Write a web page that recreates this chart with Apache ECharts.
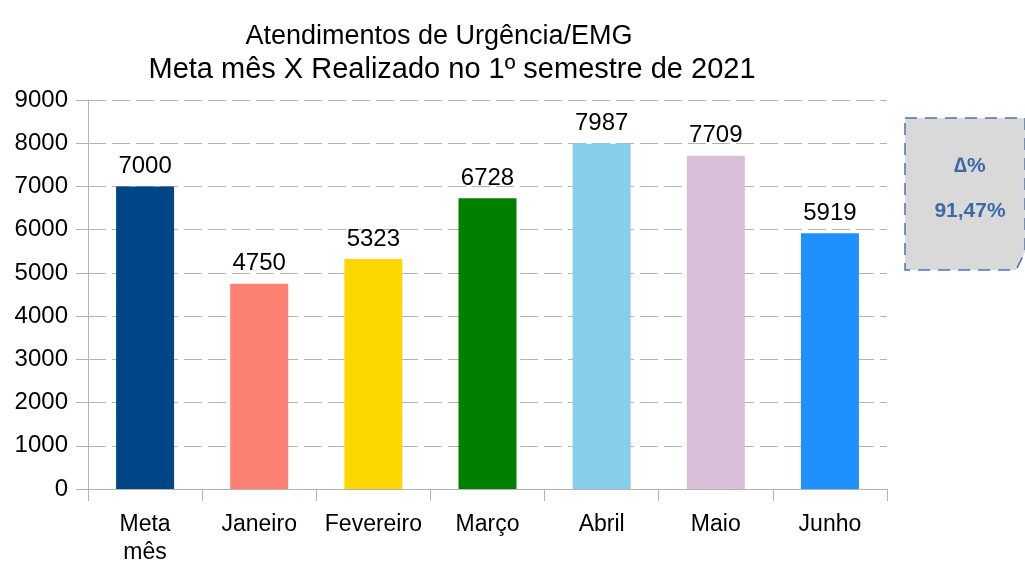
<!DOCTYPE html>
<html>
<head>
<meta charset="utf-8">
<title>Atendimentos de Urgência/EMG</title>
<script src="https://cdn.jsdelivr.net/npm/echarts@6/dist/echarts.min.js"></script>
<style>
  html, body { margin: 0; padding: 0; background: #fff; }
  #main { width: 1025px; height: 563px; }
</style>
</head>
<body>
<div id="main"></div>
<script>
var categories = ['Meta\nmês', 'Janeiro', 'Fevereiro', 'Março', 'Abril', 'Maio', 'Junho'];
var values = [7000, 4750, 5323, 6728, 7987, 7709, 5919];
var barColors = ['#004586', '#fa8072', '#ffd700', '#008000', '#87ceeb', '#d8bfd8', '#1e90ff'];
var yTicks = { min: 0, max: 9000, interval: 1000 };
var titleLines = ['Atendimentos de Urgência/EMG', 'Meta mês X Realizado no 1º semestre de 2021'];
var deltaLabel = '∆%';
var deltaValue = '91,47%';

var font = '"Liberation Sans", Arial, sans-serif';
var chart = echarts.init(document.getElementById('main'));

chart.setOption({
  backgroundColor: '#ffffff',
  animation: false,
  title: [{
    text: titleLines[0],
    left: 434,
    textAlign: 'center',
    top: 15,
    textStyle: { fontFamily: font, fontSize: 27, fontWeight: 'normal', color: '#000', lineHeight: 33 }
  }, {
    text: titleLines[1],
    left: 447,
    textAlign: 'center',
    top: 48,
    textStyle: { fontFamily: font, fontSize: 29, fontWeight: 'normal', color: '#000', lineHeight: 33 }
  }],
  grid: { left: 88, right: 138, top: 100, bottom: 74, outerBoundsMode: 'none' },
  xAxis: {
    type: 'category',
    data: categories,
    axisLine: { lineStyle: { color: '#b3b3b3' } },
    axisTick: { show: true, length: 12, lineStyle: { color: '#b3b3b3' } },
    axisLabel: { interval: 0, fontFamily: font, fontSize: 23, color: '#000', margin: 22, lineHeight: 28 }
  },
  yAxis: {
    type: 'value',
    min: yTicks.min,
    max: yTicks.max,
    interval: yTicks.interval,
    axisLine: { show: true, lineStyle: { color: '#b3b3b3' } },
    axisTick: { show: true, length: 12, lineStyle: { color: '#b3b3b3' } },
    axisLabel: { fontFamily: font, fontSize: 24, color: '#000', margin: 20, formatter: function (v) { return String(v); } },
    splitLine: { lineStyle: { color: '#b3b3b3', type: [18, 6] } }
  },
  series: [{
    type: 'bar',
    barWidth: 58,
    data: values.map(function (v, i) {
      return { value: v, itemStyle: { color: barColors[i] } };
    }),
    label: {
      show: true,
      position: 'top',
      distance: 8,
      fontFamily: font,
      fontSize: 24,
      color: '#000'
    }
  }],
  graphic: [
    {
      type: 'polygon',
      shape: { points: [[905, 118], [1025, 118], [1025, 252], [1016, 270], [905, 270]] },
      style: { fill: '#d9d9d9', stroke: '#4a74b0', lineWidth: 1.5, lineDash: [12, 8] }
    },
    {
      type: 'text',
      x: 970, y: 166,
      style: { text: deltaLabel, fontFamily: font, fontSize: 21, fontWeight: 'bold', fill: '#3d69a8', align: 'center', verticalAlign: 'middle' }
    },
    {
      type: 'text',
      x: 970, y: 211,
      style: { text: deltaValue, fontFamily: font, fontSize: 21, fontWeight: 'bold', fill: '#3d69a8', align: 'center', verticalAlign: 'middle' }
    }
  ]
});
</script>
</body>
</html>
